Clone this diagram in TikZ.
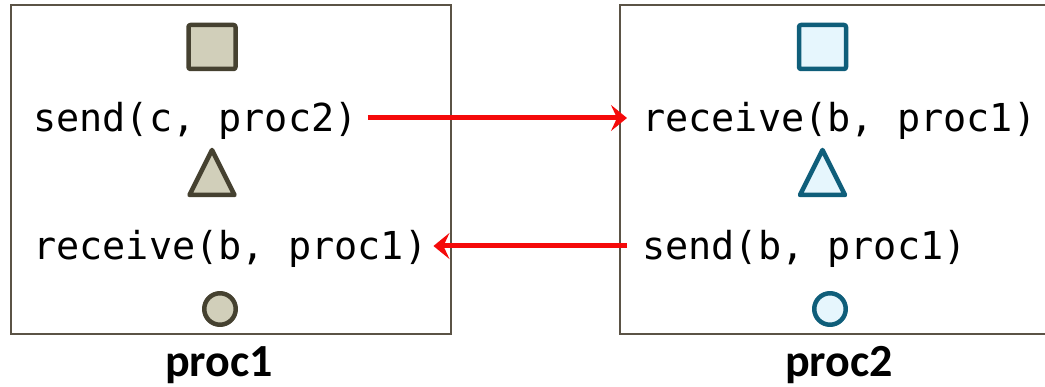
\documentclass[tikz,border=0pt]{standalone}
\usepackage{fontspec}
\setmonofont{DejaVu Sans Mono}
\newfontfamily\labelfont{Carlito}
\usetikzlibrary{arrows.meta}

\definecolor{procframe}{HTML}{5B5346}
\definecolor{olivestroke}{HTML}{454130}
\definecolor{olivefill}{HTML}{D1CFBA}
\definecolor{tealstroke}{HTML}{0F5E7A}
\definecolor{tealfill}{HTML}{E6F6FD}
\definecolor{msgred}{HTML}{F50A0A}

\tikzset{
  frame/.style={draw=procframe, line width=2pt},
  code/.style={inner sep=0pt, font=\ttfamily\fontsize{38.5}{40}\selectfont},
  proclabel/.style={inner sep=0pt, anchor=base, font=\labelfont\bfseries\fontsize{46}{48}\selectfont},
  olive/.style={draw=olivestroke, fill=olivefill, line width=4.5pt, line join=round},
  teal/.style={draw=tealstroke, fill=tealfill, line width=4.5pt, line join=round},
  msg/.style={draw=msgred, line width=5pt,
    -{Stealth[length=16pt, width=26pt, inset=6pt]}},
}

\begin{document}
\begin{tikzpicture}[x=1pt, y=-1pt]
  \useasboundingbox (0,0) rectangle (1045,387);
  \clip (0,0) rectangle (1045,387);

  % process frames
  \draw[frame] (11,5) rectangle (451,334);
  \draw[frame] (620,5) rectangle (1060,334);

  % proc1 variables
  \draw[olive, rounded corners=2pt] (188.5,25) rectangle (235.5,69);
  \draw[olive] (212,150) -- (234.5,195) -- (189.5,195) -- cycle;
  \draw[olive] (220,309) circle[radius=15.75];

  % proc2 variables
  \draw[teal, rounded corners=2pt] (799,25) rectangle (846,69);
  \draw[teal] (822.5,150) -- (845,195) -- (800,195) -- cycle;
  \draw[teal] (830,309) circle[radius=15.75];

  % statements
  \node[code, anchor=base west] (sendA) at (33,132) {send(c, proc2)};
  \node[code, anchor=base west] (recvA) at (33,260) {receive(b, proc1)};
  \node[code, anchor=base west] (recvB) at (642,132) {receive(b, proc1)};
  \node[code, anchor=base west] (sendB) at (642,260) {send(b, proc1)};

  % messages
  \draw[msg] ([xshift=10pt, yshift=14pt]sendA.base east) -- ([xshift=-15pt, yshift=14pt]recvB.base west);
  \draw[msg] ([xshift=-15pt, yshift=14pt]sendB.base west) -- ([xshift=6pt, yshift=14pt]recvA.base east);

  % process names
  \node[proclabel] (nameA) at (219,377) {proc1};
  \node[proclabel] (nameB) at (839,377) {proc2};
\end{tikzpicture}
\end{document}
